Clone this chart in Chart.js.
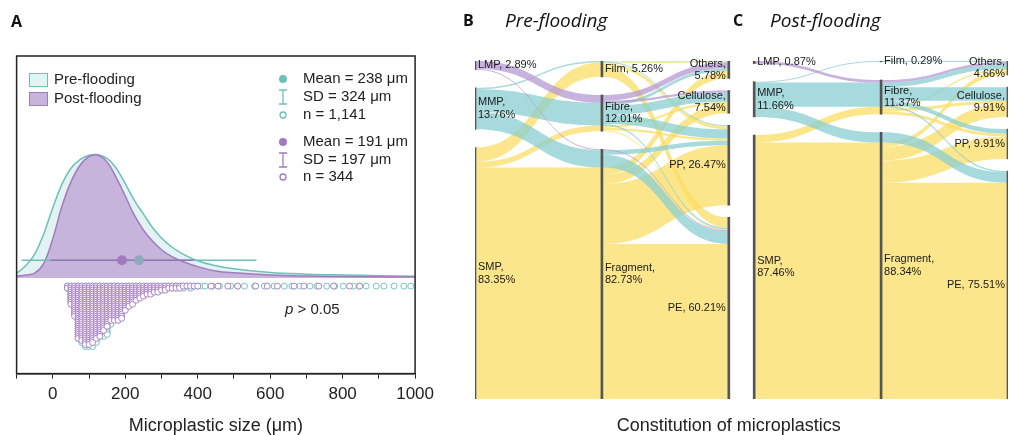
<!DOCTYPE html>
<html>
<head>
<meta charset="utf-8">
<script src="https://cdn.jsdelivr.net/npm/chart.js@4.4.1/dist/chart.umd.min.js"></script>
<style>
  body { margin: 0; background: #fff; width: 1009px; height: 435px; position: relative; overflow: hidden; }
  #chartA { position: absolute; left: 0; top: 0; }
  #chartB { position: absolute; left: 460px; top: 0; }
</style>
</head>
<body>
<canvas id="chartA" width="440" height="435"></canvas>
<canvas id="chartB" width="549" height="435"></canvas>
<script>
// ---- panel A: size distribution ----
const sizeGrid    = [-100, -75, -50, -25, 0, 25, 50, 75, 100, 125, 150, 175, 200, 225, 250, 275, 300, 325, 350, 400, 450, 500, 600, 700, 800, 900, 1000];
const preDensity  = [0.04, 0.10, 0.195, 0.36, 0.57, 0.76, 0.89, 0.96, 0.995, 1.0, 0.97, 0.89, 0.765, 0.63, 0.52, 0.41, 0.325, 0.26, 0.21, 0.14, 0.10, 0.075, 0.045, 0.032, 0.025, 0.02, 0.015];
const postDensity = [0.015, 0.025, 0.04, 0.12, 0.32, 0.58, 0.78, 0.915, 0.985, 0.995, 0.94, 0.815, 0.665, 0.51, 0.39, 0.30, 0.23, 0.18, 0.145, 0.093, 0.058, 0.043, 0.025, 0.016, 0.012, 0.01, 0.01];

const preMean = 238, preSD = 324, preN = '1,141';
const postMean = 191, postSD = 197, postN = '344';
const meanLevel = 0.144;

// dot plot: stacked counts per 10 µm bin, plus sparse single particles in the tail
const dotBins  = [40, 50, 60, 70, 80, 90, 100, 110, 120, 130, 140, 150, 160, 170, 180, 190, 200, 210, 220, 230, 240, 250, 260, 270, 280, 290, 300, 310, 320, 330, 340, 350, 360, 370, 380, 390, 400];
const preDots  = [2, 8, 14, 27, 29, 31, 31, 31, 29, 25, 26, 25, 20, 16, 14, 11, 9, 8, 7, 6, 5, 5, 4, 4, 3, 3, 3, 2, 2, 2, 2, 2, 2, 1, 2, 1, 1];
const postDots = [2, 10, 16, 27, 28, 30, 30, 29, 27, 26, 23, 21, 18, 18, 18, 17, 13, 11, 10, 8, 7, 6, 5, 5, 4, 4, 3, 3, 2, 2, 2, 2, 1, 1, 1, 1, 1];
const preTail  = [410, 420, 440, 460, 491, 510, 529, 557, 584, 611, 639, 660, 682, 710, 729, 756, 778, 802, 830, 846, 865, 893, 914, 942, 969, 988];
const postTail = [437, 456, 483, 510, 560, 592, 620, 666, 693, 734, 775, 819, 847];

// ---- panels B/C: constitution ----
const sizeClasses    = ['LMP', 'MMP', 'SMP'];
const shapeClasses   = ['Film', 'Fibre', 'Fragment'];
const polymerClasses = ['Others', 'Cellulose', 'PP', 'PE'];

const preSizePct    = [2.89, 13.76, 83.35];
const preShapePct   = [5.26, 12.01, 82.73];
const prePolymerPct = [5.78, 7.54, 26.47, 60.21];
const postSizePct    = [0.87, 11.66, 87.46];
const postShapePct   = [0.29, 11.37, 88.34];
const postPolymerPct = [4.66, 9.91, 9.91, 75.51];

// alluvia: size, shape, polymer, %
const preFlows = [
  ['LMP', 'Fibre', 'Others', 1.9], ['LMP', 'Fibre', 'Cellulose', 0.7], ['LMP', 'Fragment', 'PE', 0.29],
  ['MMP', 'Film', 'Others', 0.2], ['MMP', 'Film', 'PP', 0.3],
  ['MMP', 'Fibre', 'Others', 1.0], ['MMP', 'Fibre', 'Cellulose', 3.0], ['MMP', 'Fibre', 'PP', 3.0], ['MMP', 'Fibre', 'PE', 0.5],
  ['MMP', 'Fragment', 'PP', 1.5], ['MMP', 'Fragment', 'PE', 4.26],
  ['SMP', 'Film', 'Others', 0.3], ['SMP', 'Film', 'PP', 1.0], ['SMP', 'Film', 'PE', 3.46],
  ['SMP', 'Fibre', 'Cellulose', 0.8], ['SMP', 'Fibre', 'PP', 0.8], ['SMP', 'Fibre', 'PE', 0.31],
  ['SMP', 'Fragment', 'Others', 2.38], ['SMP', 'Fragment', 'Cellulose', 3.04], ['SMP', 'Fragment', 'PP', 19.87], ['SMP', 'Fragment', 'PE', 51.39]
];
const postFlows = [
  ['LMP', 'Fibre', 'Others', 0.87],
  ['MMP', 'Film', 'Others', 0.29],
  ['MMP', 'Fibre', 'Others', 1.5], ['MMP', 'Fibre', 'Cellulose', 4.5], ['MMP', 'Fibre', 'PP', 1.5], ['MMP', 'Fibre', 'PE', 0.49],
  ['MMP', 'Fragment', 'PE', 3.38],
  ['SMP', 'Fibre', 'Others', 0.5], ['SMP', 'Fibre', 'Cellulose', 1.0], ['SMP', 'Fibre', 'PP', 1.0],
  ['SMP', 'Fragment', 'Others', 1.5], ['SMP', 'Fragment', 'Cellulose', 4.41], ['SMP', 'Fragment', 'PP', 7.41], ['SMP', 'Fragment', 'PE', 71.64]
];

const FONT = '"Liberation Sans", Arial, sans-serif';
const HEAD = '"Open Sans", "Liberation Sans", sans-serif';
const teal = '#6cc0ba', tealFill = '#e3f2f2';
const purple = '#a07bc0', purpleFill = '#c7b4da';

// ================= panel A =================
const pts = (xs, ys) => xs.map((x, i) => ({ x: x, y: ys[i] }));
const dotTop = -0.065, dotStep = 0.0163;
function stackDots(counts, tail) {
  const out = [];
  dotBins.forEach((b, i) => { for (let k = 0; k < counts[i]; k++) out.push({ x: b, y: dotTop - k * dotStep }); });
  tail.forEach(v => out.push({ x: v, y: dotTop }));
  return out;
}

const panelA = {
  id: 'panelA',
  afterDraw(chart) {
    const { ctx, chartArea: a } = chart;
    ctx.save();
    ctx.strokeStyle = '#222';
    ctx.lineWidth = 1.5;
    ctx.strokeRect(a.left, a.top, a.right - a.left, a.bottom - a.top);

    ctx.fillStyle = '#111';
    ctx.font = 'bold 16px ' + HEAD;
    ctx.textBaseline = 'middle';
    ctx.fillText('A', 11, 22);

    // group legend
    ctx.font = '15px ' + FONT;
    ctx.lineWidth = 1;
    ctx.fillStyle = tealFill; ctx.strokeStyle = teal;
    ctx.fillRect(29.5, 73.5, 18, 13); ctx.strokeRect(29.5, 73.5, 18, 13);
    ctx.fillStyle = purpleFill; ctx.strokeStyle = purple;
    ctx.fillRect(29.5, 92.5, 18, 13); ctx.strokeRect(29.5, 92.5, 18, 13);
    ctx.fillStyle = '#222';
    ctx.fillText('Pre-flooding', 54, 80);
    ctx.fillText('Post-flooding', 54, 99);

    // statistics legend
    const rows = [
      [teal, 79, 'mean', 'Mean = ' + preMean + ' μm'],
      [teal, 97, 'sd', 'SD = ' + preSD + ' μm'],
      [teal, 115, 'n', 'n = ' + preN],
      [purple, 142, 'mean', 'Mean = ' + postMean + ' μm'],
      [purple, 160, 'sd', 'SD = ' + postSD + ' μm'],
      [purple, 177, 'n', 'n = ' + postN]
    ];
    rows.forEach(([c, y, kind, txt]) => {
      ctx.strokeStyle = c; ctx.fillStyle = c; ctx.lineWidth = 1.3;
      if (kind === 'mean') {
        ctx.beginPath(); ctx.arc(283, y, 4, 0, Math.PI * 2); ctx.fill();
      } else if (kind === 'sd') {
        ctx.beginPath();
        ctx.moveTo(279, y - 7); ctx.lineTo(287, y - 7);
        ctx.moveTo(283, y - 7); ctx.lineTo(283, y + 7);
        ctx.moveTo(279, y + 7); ctx.lineTo(287, y + 7);
        ctx.stroke();
      } else {
        ctx.fillStyle = '#fff';
        ctx.beginPath(); ctx.arc(283, y, 3, 0, Math.PI * 2); ctx.fill(); ctx.stroke();
      }
      ctx.fillStyle = '#222';
      ctx.fillText(txt, 303, y);
    });

    // test result
    ctx.font = 'italic 15px ' + FONT;
    ctx.fillText('p', 285, 310);
    const w = ctx.measureText('p').width;
    ctx.font = '15px ' + FONT;
    ctx.fillText(' > 0.05', 285 + w, 310);
    ctx.restore();
  }
};

new Chart(document.getElementById('chartA'), {
  type: 'line',
  data: {
    datasets: [
      { type: 'scatter', data: [{ x: postMean, y: meanLevel }], pointRadius: 5, pointBackgroundColor: '#a17bc0', pointBorderWidth: 0, order: 1 },
      { type: 'scatter', data: [{ x: preMean, y: meanLevel }], pointRadius: 5, pointBackgroundColor: '#8ca9bf', pointBorderWidth: 0, order: 2 },
      { data: [{ x: postMean - postSD, y: meanLevel }, { x: postMean + postSD, y: meanLevel }], borderColor: '#9a70bb', borderWidth: 1.5, pointRadius: 0, order: 3 },
      { data: [{ x: preMean - preSD, y: meanLevel }, { x: preMean + preSD, y: meanLevel }], borderColor: teal, borderWidth: 1.5, pointRadius: 0, order: 4 },
      { type: 'scatter', data: stackDots(postDots, postTail), pointRadius: 3, pointBorderWidth: 1, pointBorderColor: '#a983c6', pointBackgroundColor: '#fff', order: 5 },
      { type: 'scatter', data: stackDots(preDots, preTail), pointRadius: 3, pointBorderWidth: 1, pointBorderColor: '#74c4bf', pointBackgroundColor: '#fff', order: 6 },
      { data: pts(sizeGrid, postDensity), borderColor: purple, borderWidth: 1.5, backgroundColor: purpleFill, fill: 'origin', pointRadius: 0, tension: 0.4, order: 7 },
      { data: pts(sizeGrid, preDensity), borderColor: teal, borderWidth: 1.5, backgroundColor: tealFill, fill: 'origin', pointRadius: 0, tension: 0.4, order: 8 }
    ]
  },
  options: {
    responsive: false,
    animation: false,
    layout: { padding: { left: 16.6, top: 56, right: 21, bottom: 0 } },
    scales: {
      x: {
        type: 'linear', min: -100, max: 1000,
        grid: { drawOnChartArea: false, drawTicks: true, tickLength: 5, color: '#222' },
        border: { display: true, color: '#222', width: 1.5 },
        ticks: {
          stepSize: 100, autoSkip: false, maxRotation: 0, padding: 6,
          color: '#222', font: { family: FONT, size: 17 },
          callback: v => (v % 200 === 0 ? String(v) : '')
        },
        title: { display: true, text: 'Microplastic size (μm)', color: '#222', font: { family: FONT, size: 18, lineHeight: 1.0 }, padding: { top: 6, bottom: 0 } }
      },
      y: { type: 'linear', min: -0.774, max: 1.80, display: false }
    },
    plugins: { legend: { display: false }, tooltip: { enabled: false } }
  },
  plugins: [panelA]
});

// ================= panels B and C =================
const gapTotal = 12;
const sIdx = c => sizeClasses.indexOf(c);
const fIdx = c => shapeClasses.indexOf(c);
const pIdx = c => polymerClasses.indexOf(c);

function buildPanel(rawFlows, cols, pcts) {
  const flows = rawFlows.map(f => ({ size: f[0], shape: f[1], polymer: f[2], v: f[3], pos: {} }));
  const axes = [
    { key: 'size', classes: sizeClasses, pct: pcts[0], sort: (a, b) => fIdx(a.shape) - fIdx(b.shape) || pIdx(a.polymer) - pIdx(b.polymer) },
    { key: 'shape', classes: shapeClasses, pct: pcts[1], sort: (a, b) => sIdx(a.size) - sIdx(b.size) || pIdx(a.polymer) - pIdx(b.polymer) },
    { key: 'polymer', classes: polymerClasses, pct: pcts[2], sort: (a, b) => fIdx(a.shape) - fIdx(b.shape) || sIdx(a.size) - sIdx(b.size) }
  ];
  const nodes = [];
  axes.forEach((ax, ci) => {
    const gap = gapTotal / (ax.classes.length - 1);
    let y = 0;
    ax.classes.forEach((c, i) => {
      const start = y;
      flows.filter(f => f[ax.key] === c).sort(ax.sort).forEach(f => { f.pos[ax.key] = [y, y + f.v]; y += f.v; });
      nodes.push({ col: ci, x: cols[ci], name: c, pct: ax.pct[i], y0: start, y1: y });
      y += gap;
    });
  });
  return { flows, nodes, cols };
}

const panels = [
  buildPanel(preFlows, [0, 1, 2], [preSizePct, preShapePct, prePolymerPct]),
  buildPanel(postFlows, [2.2, 3.2, 4.2], [postSizePct, postShapePct, postPolymerPct])
];
const wrapCols = [[false, true, true], [false, true, true], [true, true, false, false]];

const nodeBars = [];
panels.forEach(p => p.nodes.forEach(n => nodeBars.push({ x: n.x, y: [n.y0, n.y1] })));

const flowColor = { LMP: 'rgba(182,152,211,0.75)', MMP: 'rgba(136,206,208,0.75)', SMP: 'rgba(251,222,100,0.75)' };

function band(ctx, xa, xb, a0, a1, b0, b1) {
  const xm = (xa + xb) / 2;
  ctx.beginPath();
  ctx.moveTo(xa, a0);
  ctx.bezierCurveTo(xm, a0, xm, b0, xb, b0);
  ctx.lineTo(xb, b1);
  ctx.bezierCurveTo(xm, b1, xm, a1, xa, a1);
  ctx.closePath();
  ctx.fill();
}

const alluvial = {
  id: 'alluvial',
  beforeDatasetsDraw(chart) {
    const { ctx, scales: { x, y } } = chart;
    ctx.save();
    panels.forEach(p => {
      const order = ['SMP', 'MMP', 'LMP'];
      // first stage: merge alluvia sharing size and shape (contiguous on both axes)
      order.forEach(s => {
        shapeClasses.forEach(sh => {
          const g = p.flows.filter(f => f.size === s && f.shape === sh);
          if (!g.length) return;
          const a0 = Math.min(...g.map(f => f.pos.size[0])), a1 = Math.max(...g.map(f => f.pos.size[1]));
          const b0 = Math.min(...g.map(f => f.pos.shape[0])), b1 = Math.max(...g.map(f => f.pos.shape[1]));
          ctx.fillStyle = flowColor[s];
          band(ctx, x.getPixelForValue(p.cols[0]) + 1, x.getPixelForValue(p.cols[1]) - 1,
            y.getPixelForValue(a0), y.getPixelForValue(a1), y.getPixelForValue(b0), y.getPixelForValue(b1));
        });
      });
      // second stage
      order.forEach(s => {
        p.flows.filter(f => f.size === s).forEach(f => {
          ctx.fillStyle = flowColor[s];
          band(ctx, x.getPixelForValue(p.cols[1]) + 1, x.getPixelForValue(p.cols[2]) - 1,
            y.getPixelForValue(f.pos.shape[0]), y.getPixelForValue(f.pos.shape[1]),
            y.getPixelForValue(f.pos.polymer[0]), y.getPixelForValue(f.pos.polymer[1]));
        });
      });
    });
    ctx.restore();
  },
  afterDatasetsDraw(chart) {
    const { ctx, scales: { x, y } } = chart;
    ctx.save();
    ctx.fillStyle = '#1a1a1a';
    ctx.font = '11px ' + FONT;
    ctx.textBaseline = 'middle';
    panels.forEach(p => {
      const counters = [0, 0, 0];
      p.nodes.forEach(n => {
        const i = counters[n.col]++;
        const lines = wrapCols[n.col][i] ? [n.name + ',', n.pct.toFixed(2) + '%'] : [n.name + ', ' + n.pct.toFixed(2) + '%'];
        const cy = y.getPixelForValue((n.y0 + n.y1) / 2);
        const px = x.getPixelForValue(n.x);
        const right = n.col === 2;
        ctx.textAlign = right ? 'right' : 'left';
        lines.forEach((t, k) => {
          ctx.fillText(t, right ? px - 3 : px + 3, cy + (k - (lines.length - 1) / 2) * 12.5);
        });
      });
    });
    // panel headings
    ctx.textAlign = 'left';
    ctx.fillStyle = '#111';
    ctx.font = 'bold 16px ' + HEAD;
    ctx.fillText('B', 3, 21);
    ctx.fillText('C', 273, 21);
    ctx.font = 'italic 19px ' + HEAD;
    ctx.fillText('Pre-flooding', 45, 22);
    ctx.fillText('Post-flooding', 310, 22);
    // shared axis title
    ctx.textAlign = 'center';
    ctx.fillStyle = '#222';
    ctx.font = '18px ' + FONT;
    ctx.fillText('Constitution of microplastics', x.getPixelForValue(2), 426);
    ctx.restore();
  }
};

new Chart(document.getElementById('chartB'), {
  type: 'bar',
  data: {
    datasets: [{ data: nodeBars, backgroundColor: '#555', borderWidth: 0, barThickness: 2, grouped: false }]
  },
  options: {
    responsive: false,
    animation: false,
    layout: { padding: { left: 15, right: 1, top: 61, bottom: 36 } },
    scales: {
      x: { type: 'linear', min: 0, max: 4.2, offset: false, display: false },
      y: { type: 'linear', min: 0, max: 100 + gapTotal, reverse: true, display: false }
    },
    plugins: { legend: { display: false }, tooltip: { enabled: false } }
  },
  plugins: [alluvial]
});
</script>
</body>
</html>
